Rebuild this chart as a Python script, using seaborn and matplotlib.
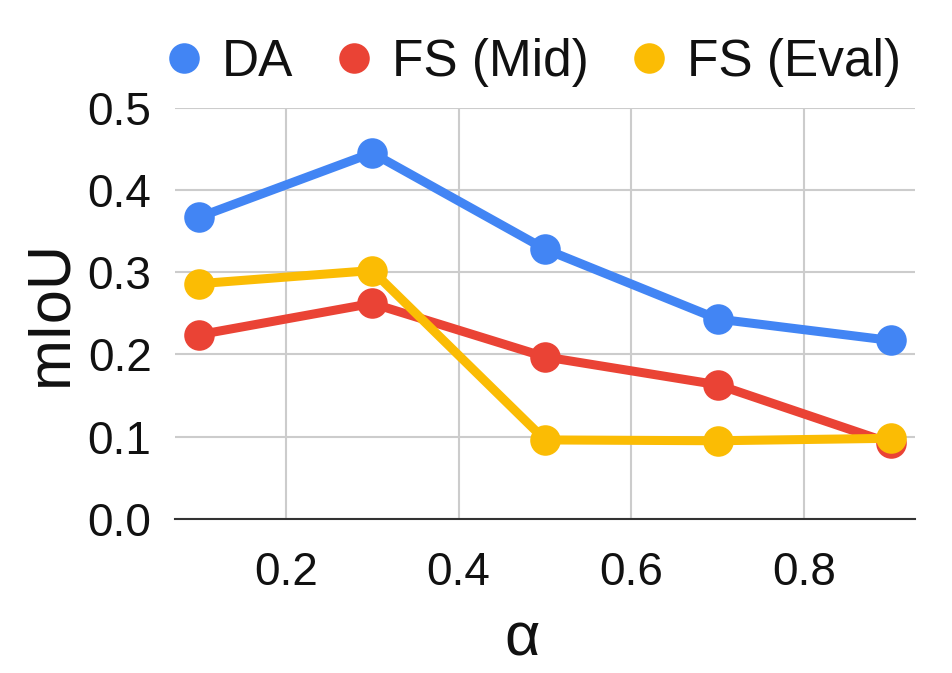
import matplotlib.pyplot as plt
import pandas as pd
import seaborn as sns

alpha = [0.1, 0.3, 0.5, 0.7, 0.9]
da = [0.367, 0.445, 0.328, 0.243, 0.217]
fs_mid = [0.224, 0.262, 0.197, 0.163, 0.092]
fs_eval = [0.286, 0.302, 0.096, 0.095, 0.098]
series_names = ["DA", "FS (Mid)", "FS (Eval)"]
colors = ["#4285F4", "#EA4335", "#FBBC04"]

df = pd.DataFrame({
    "alpha": alpha * 3,
    "mIoU": da + fs_mid + fs_eval,
    "series": [n for n in series_names for _ in alpha],
})

sns.set_style("whitegrid")
plt.rcParams["font.family"] = ["Liberation Sans", "DejaVu Sans"]

fig = plt.figure(figsize=(9.52, 6.73), dpi=100)
ax = fig.add_axes([0.184, 0.229, 0.777, 0.611])

sns.lineplot(data=df, x="alpha", y="mIoU", hue="series", palette=colors,
             marker="o", markersize=22, markeredgewidth=0, linewidth=6.5,
             ax=ax, legend=False)

ax.set_xlim(0.072, 0.928)
ax.set_ylim(0, 0.5)
ax.set_xticks([0.2, 0.4, 0.6, 0.8])
ax.set_yticks([0.0, 0.1, 0.2, 0.3, 0.4, 0.5])
ax.set_xticklabels(["0.2", "0.4", "0.6", "0.8"])
ax.set_yticklabels([f"{v:.1f}" for v in [0.0, 0.1, 0.2, 0.3, 0.4, 0.5]])
ax.grid(color="#cccccc", linewidth=1.5)
ax.tick_params(axis="y", labelsize=33, length=0, pad=17, colors="#111111")
ax.tick_params(axis="x", labelsize=33, length=0, pad=23, colors="#111111")
for side in ["top", "right", "left"]:
    ax.spines[side].set_visible(False)
ax.spines["bottom"].set_color("#333333")
ax.spines["bottom"].set_linewidth(1.5)
ax.set_xlabel("α", fontsize=44, color="#111111")
ax.set_ylabel("mIoU", fontsize=44, color="#111111")
ax.xaxis.set_label_coords(0.469, -0.225)
ax.yaxis.set_label_coords(-0.129, 0.5)

handles = [plt.Line2D([], [], linestyle="", marker="o", markersize=22,
                      markeredgewidth=0, color=c) for c in colors]
fig.legend(handles, series_names, loc="upper left", bbox_to_anchor=(0.123, 1.012),
           ncol=3, frameon=False, fontsize=37, handletextpad=0.34,
           columnspacing=0.78, handlelength=0.8, labelcolor="#111111")

fig.savefig("out.png", dpi=100)
